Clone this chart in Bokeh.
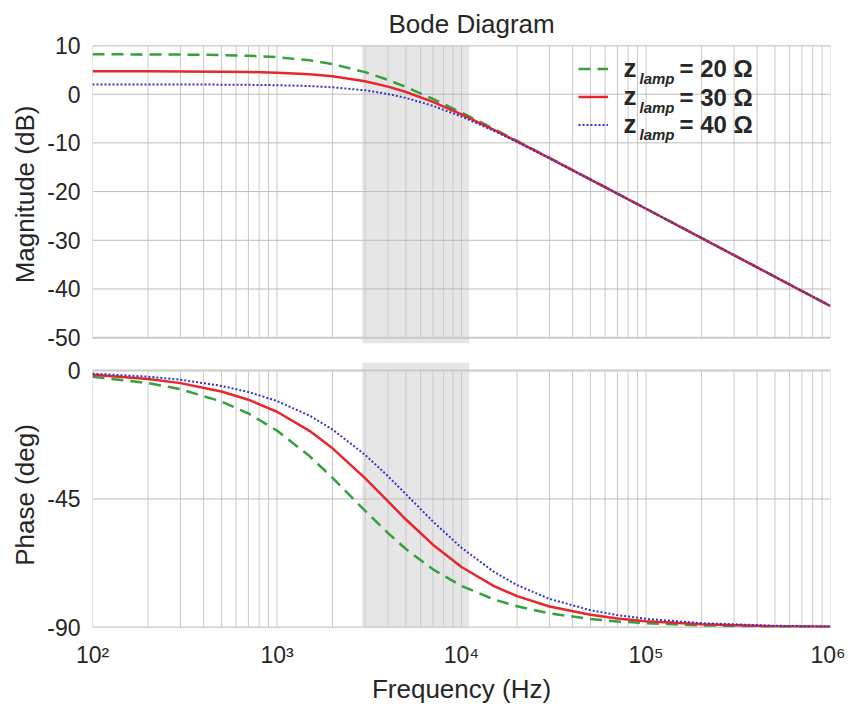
from bokeh.plotting import figure
from bokeh.models import Range1d, FixedTicker, BoxAnnotation, Legend, LegendItem, Label
from bokeh.layouts import column
from bokeh.embed import file_html
from bokeh.resources import INLINE

# ---------------- data ----------------
freq = [100, 200, 300, 500, 700, 1000, 1500, 2000, 3000, 4000, 5000, 7000,
        10000, 15000, 20000, 30000, 50000, 70000, 100000, 200000, 500000, 1000000]

mag_20 = [8.19, 8.17, 8.14, 8.04, 7.90, 7.60, 6.95, 6.18, 4.53, 2.93, 1.48, -0.97,
          -3.78, -7.15, -9.59, -13.07, -17.49, -20.41, -23.50, -29.52, -37.48, -43.50]
mag_30 = [4.70, 4.69, 4.67, 4.63, 4.56, 4.42, 4.10, 3.68, 2.67, 1.56, 0.45, -1.59,
          -4.13, -7.33, -9.70, -13.14, -17.53, -20.44, -23.53, -29.55, -37.50, -43.52]
mag_40 = [2.00, 1.99, 1.99, 1.96, 1.92, 1.85, 1.67, 1.42, 0.79, 0.04, -0.77, -2.39,
          -4.59, -7.55, -9.83, -13.19, -17.54, -20.44, -23.53, -29.54, -37.49, -43.52]

ph_20 = [-2.20, -4.40, -6.56, -10.87, -15.06, -21.05, -29.98, -37.57, -49.09, -56.97, -62.53, -69.62,
         -75.43, -80.17, -82.59, -85.05, -87.02, -87.87, -88.51, -89.25, -89.70, -89.85]
ph_30 = [-1.48, -2.95, -4.42, -7.34, -10.23, -14.45, -21.14, -27.27, -37.71, -45.87, -52.19, -61.00,
         -68.80, -75.50, -79.02, -82.63, -85.56, -86.83, -87.78, -88.89, -89.56, -89.78]
ph_40 = [-1.08, -2.16, -3.24, -5.39, -7.52, -10.69, -15.80, -20.68, -29.51, -37.04, -43.33, -52.87,
         -62.08, -70.54, -75.16, -79.98, -83.95, -85.67, -86.97, -88.48, -89.39, -89.70]

series_values = ["20", "30", "40"]           # z_lamp values (Ohm)

band_lo, band_hi = 2900, 11000                 # shaded frequency band (Hz)

mag_ticks = [-50, -40, -30, -20, -10, 0, 10]
mag_tick_labels = ["-50", "-40", "-30", "-20", "-10", "0", "10"]
ph_ticks = [-90, -45, 0]
ph_tick_labels = ["-90", "-45", "0"]
freq_ticks = [100, 1000, 10000, 100000, 1000000]
freq_tick_labels = ["10\u00b2", "10\u00b3", "10\u2074", "10\u2075", "10\u2076"]

# grid positions on the log axis: 1..9 x each decade
grid_freqs = [k * 10 ** d for d in range(2, 6) for k in range(1, 10)] + [1000000]

# ---------------- styles ----------------
FONT = "Liberation Sans"
GREEN = "#35a03c"
RED = "#e8262b"
BLUE = "#3535cc"
TXT = "#262626"
W = 845


def style_common(p):
    p.grid.visible = False
    p.outline_line_color = None
    p.background_fill_color = "white"
    p.border_fill_color = "white"
    for ax in p.yaxis:
        ax.axis_line_color = None
        ax.major_tick_line_color = None
        ax.minor_tick_line_color = None
        ax.major_tick_in = 0
        ax.major_tick_out = 0
        ax.minor_tick_in = 0
        ax.minor_tick_out = 0
        ax.major_label_text_font = FONT
        ax.major_label_text_font_size = "23px"
        ax.major_label_text_color = TXT
        ax.major_label_standoff = 12
        ax.axis_label_text_font = FONT
        ax.axis_label_text_font_size = "26px"
        ax.axis_label_text_font_style = "normal"
        ax.axis_label_text_color = TXT
        ax.axis_label_standoff = 4


def draw_grid(p, ylo, yhi, yticks):
    p.segment(x0=grid_freqs, x1=grid_freqs, y0=[ylo] * len(grid_freqs), y1=[yhi] * len(grid_freqs),
              line_color="#c9c9c9", line_width=1)
    p.segment(x0=[freq_ticks[0]] * len(yticks), x1=[freq_ticks[-1]] * len(yticks),
              y0=yticks, y1=yticks, line_color="#bcbcbc", line_width=1)
    p.segment(x0=[freq_ticks[0]] * 2, x1=[freq_ticks[-1]] * 2, y0=[ylo, yhi], y1=[ylo, yhi],
              line_color="#cacaca", line_width=2)


# ---------------- magnitude plot ----------------
p1 = figure(width=W, height=352, x_axis_type="log",
            x_range=Range1d(freq_ticks[0], freq_ticks[-1]), y_range=Range1d(-51.2, 10),
            output_backend="svg", toolbar_location=None,
            min_border_left=92, min_border_right=15, min_border_top=43, min_border_bottom=9)
style_common(p1)
p1.xaxis.visible = False
p1.title.text = "Bode Diagram"
p1.title.align = "left"
p1.title.offset = 296
p1.title.text_font = FONT
p1.title.text_font_size = "26px"
p1.title.text_font_style = "normal"
p1.title.text_color = TXT
p1.title.standoff = 13
p1.yaxis.ticker = FixedTicker(ticks=mag_ticks)
p1.yaxis.major_label_overrides = {t: s for t, s in zip(mag_ticks, mag_tick_labels)}
p1.yaxis.axis_label = "Magnitude (dB)"

p1.add_layout(BoxAnnotation(left=band_lo, right=band_hi, fill_color="#e6e6e6", fill_alpha=1.0,
                            line_color=None, level="underlay"))
draw_grid(p1, -50, 10, mag_ticks)

r20 = p1.line(freq, mag_20, line_color=GREEN, line_width=2.5, line_dash="12 7")
r30 = p1.line(freq, mag_30, line_color=RED, line_width=2.5)
r40 = p1.line(freq, mag_40, line_color=BLUE, line_width=2, line_dash="2 2")

legend = Legend(items=[LegendItem(label=" ", renderers=[r]) for r in (r20, r30, r40)],
                location=(486, 206), orientation="vertical", padding=0, margin=0, spacing=3,
                glyph_width=30, glyph_height=25, label_height=25, label_standoff=15,
                label_text_font=FONT, label_text_font_size="20px", label_text_font_style="bold",
                label_text_color=TXT, border_line_color=None, background_fill_alpha=0)
p1.add_layout(legend)

row_y = [274.7, 246.3, 219.0]
for v, yy in zip(series_values, row_y):
    p1.add_layout(Label(x=531, y=yy + 1, x_units="screen", y_units="screen", text="z",
                        text_font=FONT, text_font_size="26px", text_font_style="bold",
                        text_color=TXT, text_baseline="middle", text_align="left"))
    p1.add_layout(Label(x=547, y=yy - 10, x_units="screen", y_units="screen", text="lamp",
                        text_font=FONT, text_font_size="15px", text_font_style="bold italic",
                        text_color=TXT, text_baseline="middle", text_align="left"))
    p1.add_layout(Label(x=587, y=yy, x_units="screen", y_units="screen", text="= %s \u03a9" % v,
                        text_font=FONT, text_font_size="24px", text_font_style="bold",
                        text_color=TXT, text_baseline="middle", text_align="left"))

# ---------------- phase plot ----------------
p2 = figure(width=W, height=355, x_axis_type="log",
            x_range=p1.x_range, y_range=Range1d(-90, 2.8),
            output_backend="svg", toolbar_location=None,
            min_border_left=92, min_border_right=15, min_border_top=10, min_border_bottom=80)
style_common(p2)
p2.yaxis.ticker = FixedTicker(ticks=ph_ticks)
p2.yaxis.major_label_overrides = {t: s for t, s in zip(ph_ticks, ph_tick_labels)}
p2.yaxis.axis_label = "Phase (deg)"

xa = p2.xaxis[0]
xa.ticker = FixedTicker(ticks=freq_ticks)
xa.major_label_overrides = {t: s for t, s in zip(freq_ticks, freq_tick_labels)}
xa.axis_line_color = None
xa.major_tick_line_color = None
xa.minor_tick_line_color = None
xa.major_tick_in = 0
xa.major_tick_out = 0
xa.minor_tick_in = 0
xa.minor_tick_out = 0
xa.major_label_text_font = FONT
xa.major_label_text_font_size = "23px"
xa.major_label_text_color = TXT
xa.major_label_standoff = 14
xa.axis_label = "Frequency (Hz)"
xa.axis_label_text_font = FONT
xa.axis_label_text_font_size = "26px"
xa.axis_label_text_font_style = "normal"
xa.axis_label_text_color = TXT
xa.axis_label_standoff = 3

p2.add_layout(BoxAnnotation(left=band_lo, right=band_hi, fill_color="#e6e6e6", fill_alpha=1.0,
                            line_color=None, level="underlay"))
draw_grid(p2, -90, 0, ph_ticks)

p2.line(freq, ph_20, line_color=GREEN, line_width=2.5, line_dash="12 7")
p2.line(freq, ph_30, line_color=RED, line_width=2.5)
p2.line(freq, ph_40, line_color=BLUE, line_width=2, line_dash="2 2")

layout = column(p1, p2, spacing=0)
open("out.html", "w").write(file_html(layout, INLINE))
